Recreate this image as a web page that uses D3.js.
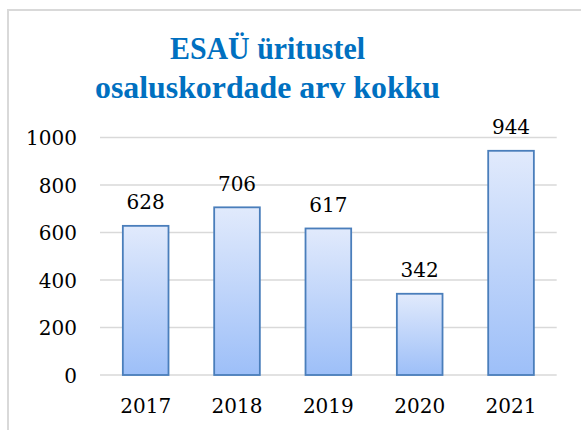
<!DOCTYPE html>
<html>
<head>
<meta charset="utf-8">
<script src="https://cdn.jsdelivr.net/npm/d3@7"></script>
<style>
  body { margin: 0; background: #fff; }
  svg { display: block; }
</style>
</head>
<body>
<svg width="581" height="430"></svg>
<script>
// data
var years = ["2017", "2018", "2019", "2020", "2021"];
var counts = [628, 706, 617, 342, 944];
var yTicks = [0, 200, 400, 600, 800, 1000];
var titleLines = ["ESAÜ üritustel", "osaluskordade arv kokku"];

var svg = d3.select("svg");
var serif = "'DejaVu Serif', serif";

// outer frame (clipped at right / bottom like the original)
svg.append("rect")
    .attr("x", 8).attr("y", 10)
    .attr("width", 600).attr("height", 450)
    .attr("fill", "#fff")
    .attr("stroke", "#d9d9d9")
    .attr("stroke-width", 2);

var defs = svg.append("defs");
var grad = defs.append("linearGradient")
    .attr("id", "barGrad")
    .attr("x1", 0).attr("y1", 0).attr("x2", 0).attr("y2", 1);
grad.append("stop").attr("offset", "0%").attr("stop-color", "#e1eafc");
grad.append("stop").attr("offset", "100%").attr("stop-color", "#9dbff8");

var x = d3.scaleBand()
    .domain(years)
    .range([100, 556.7])
    .paddingInner(0.5)
    .paddingOuter(0.25);

var y = d3.scaleLinear()
    .domain([0, 1000])
    .range([375, 137.5]);

// title
var title = svg.append("text")
    .attr("text-anchor", "middle")
    .attr("font-family", "'Liberation Serif', serif")
    .attr("font-weight", "bold")
    .attr("font-size", "31px")
    .attr("fill", "#0070c0");
title.append("tspan").attr("x", 267.5).attr("y", 58.5)
    .attr("textLength", 195).attr("lengthAdjust", "spacingAndGlyphs")
    .text(titleLines[0]);
title.append("tspan").attr("x", 267.5).attr("y", 97.5)
    .attr("textLength", 345).attr("lengthAdjust", "spacingAndGlyphs")
    .text(titleLines[1]);

// gridlines
svg.append("g").selectAll("line")
    .data(yTicks)
    .join("line")
    .attr("x1", 100).attr("x2", 556.7)
    .attr("y1", function(d) { return y(d); })
    .attr("y2", function(d) { return y(d); })
    .attr("stroke", "#d9d9d9")
    .attr("stroke-width", 1.5);

// y tick labels
svg.append("g").selectAll("text")
    .data(yTicks)
    .join("text")
    .attr("x", 77)
    .attr("y", function(d) { return y(d) + 7.5; })
    .attr("text-anchor", "end")
    .attr("font-family", serif)
    .attr("font-size", "20px")
    .attr("fill", "#000")
    .text(function(d) { return d; });

// bars
svg.append("g").selectAll("rect")
    .data(counts)
    .join("rect")
    .attr("x", function(d, i) { return x(years[i]); })
    .attr("y", function(d) { return y(d); })
    .attr("width", x.bandwidth())
    .attr("height", function(d) { return y(0) - y(d); })
    .attr("fill", "url(#barGrad)")
    .attr("stroke", "#4a7ebb")
    .attr("stroke-width", 1.8);

// value labels
svg.append("g").selectAll("text")
    .data(counts)
    .join("text")
    .attr("x", function(d, i) { return x(years[i]) + x.bandwidth() / 2; })
    .attr("y", function(d) { return y(d) - 16.5; })
    .attr("text-anchor", "middle")
    .attr("font-family", serif)
    .attr("font-size", "20px")
    .attr("fill", "#000")
    .text(function(d) { return d; });

// x labels
svg.append("g").selectAll("text")
    .data(years)
    .join("text")
    .attr("x", function(d) { return x(d) + x.bandwidth() / 2; })
    .attr("y", 413)
    .attr("text-anchor", "middle")
    .attr("font-family", serif)
    .attr("font-size", "20px")
    .attr("fill", "#000")
    .text(function(d) { return d; });
</script>
</body>
</html>
